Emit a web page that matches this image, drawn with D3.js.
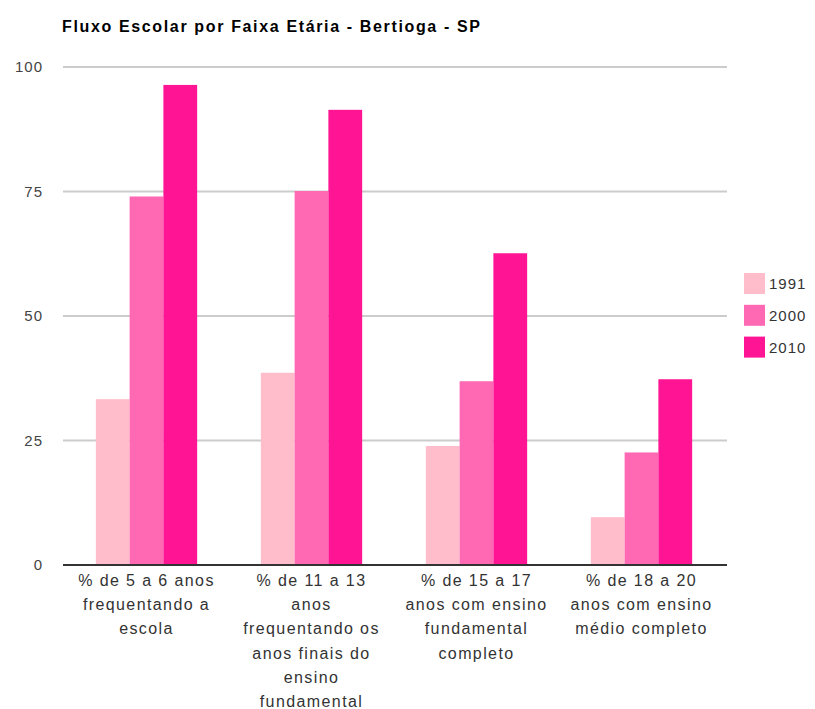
<!DOCTYPE html>
<html>
<head>
<meta charset="utf-8">
<script src="https://cdn.jsdelivr.net/npm/d3@7"></script>
<style>
  body { margin: 0; background: #fff; }
  svg { display: block; }
  text { font-family: "Liberation Sans", Arial, sans-serif; }
</style>
</head>
<body>
<div id="chart"></div>
<script>
let width = 815, height = 709;

const title = "Fluxo Escolar por Faixa Etária - Bertioga - SP";
const categories = ["g1", "g2", "g3", "g4"];
const catLabels = [
    ["% de 5 a 6 anos", "frequentando a", "escola"],
    ["% de 11 a 13", "anos", "frequentando os", "anos finais do", "ensino", "fundamental"],
    ["% de 15 a 17", "anos com ensino", "fundamental", "completo"],
    ["% de 18 a 20", "anos com ensino", "médio completo"]
];
const years = ["1991", "2000", "2010"];
const v1991 = [33.3, 38.6, 23.9, 9.6];
const v2000 = [74.0, 75.1, 36.9, 22.6];
const v2010 = [96.4, 91.4, 62.6, 37.3];
const yTicks = [0, 25, 50, 75, 100];
const colors = ["#ffbccb", "#ff69b4", "#ff1493"];

const series = [v1991, v2000, v2010];

let svg = d3.select('#chart')
    .append('svg')
    .attr('width', width)
    .attr('height', height);

let plotLeft = 63, plotRight = 727;
let y = d3.scaleLinear().domain([0, 100]).range([565, 67]);
let x0 = d3.scaleBand().domain(categories).range([64, 724])
    .paddingInner(0.386).paddingOuter(0.193);
let x1 = d3.scaleBand().domain(years).range([0, x0.bandwidth()]);

// title
svg.append('text')
    .attr('x', 62)
    .attr('y', 32)
    .attr('font-size', 16)
    .attr('font-weight', 'bold')
    .attr('fill', '#000')
    .attr('textLength', 418)
    .attr('lengthAdjust', 'spacing')
    .text(title);

// gridlines
svg.selectAll('.grid')
    .data(yTicks.filter(d => d > 0))
    .enter()
    .append('line')
    .attr('x1', plotLeft)
    .attr('x2', plotRight)
    .attr('y1', d => y(d))
    .attr('y2', d => y(d))
    .attr('stroke', '#cccccc')
    .attr('stroke-width', 2);

// y labels
svg.selectAll('.ylab')
    .data(yTicks)
    .enter()
    .append('text')
    .attr('x', 43)
    .attr('y', d => y(d) + 5)
    .attr('text-anchor', 'end')
    .attr('font-size', 15)
    .attr('letter-spacing', 1)
    .attr('fill', '#444')
    .text(d => d);

// bars
series.forEach((vals, s) => {
    svg.selectAll('.bar' + s)
        .data(vals)
        .enter()
        .append('rect')
        .attr('x', (d, i) => x0(categories[i]) + x1(years[s]))
        .attr('y', d => y(d))
        .attr('width', x1.bandwidth())
        .attr('height', d => y(0) - y(d))
        .attr('fill', colors[s]);
});

// baseline
svg.append('line')
    .attr('x1', plotLeft)
    .attr('x2', plotRight)
    .attr('y1', y(0))
    .attr('y2', y(0))
    .attr('stroke', '#333')
    .attr('stroke-width', 2);

// category labels
categories.forEach((c, i) => {
    let t = svg.append('text')
        .attr('text-anchor', 'middle')
        .attr('font-size', 16)
        .attr('letter-spacing', 1.4)
        .attr('fill', '#333');
    catLabels[i].forEach((line, j) => {
        t.append('tspan')
            .attr('x', x0(c) + x0.bandwidth() / 2)
            .attr('y', 586 + j * 24.2)
            .text(line);
    });
});

// legend
let legend = svg.selectAll('.legend')
    .data(years)
    .enter()
    .append('g')
    .attr('transform', (d, i) => "translate(" + 744 + "," + (273 + i * 31.8) + ")");

legend.append('rect')
    .attr('width', 21)
    .attr('height', 21)
    .attr('fill', (d, i) => colors[i]);

legend.append('text')
    .attr('x', 25)
    .attr('y', 16)
    .attr('font-size', 15)
    .attr('letter-spacing', 1)
    .attr('fill', '#333')
    .text(d => d);
</script>
</body>
</html>
